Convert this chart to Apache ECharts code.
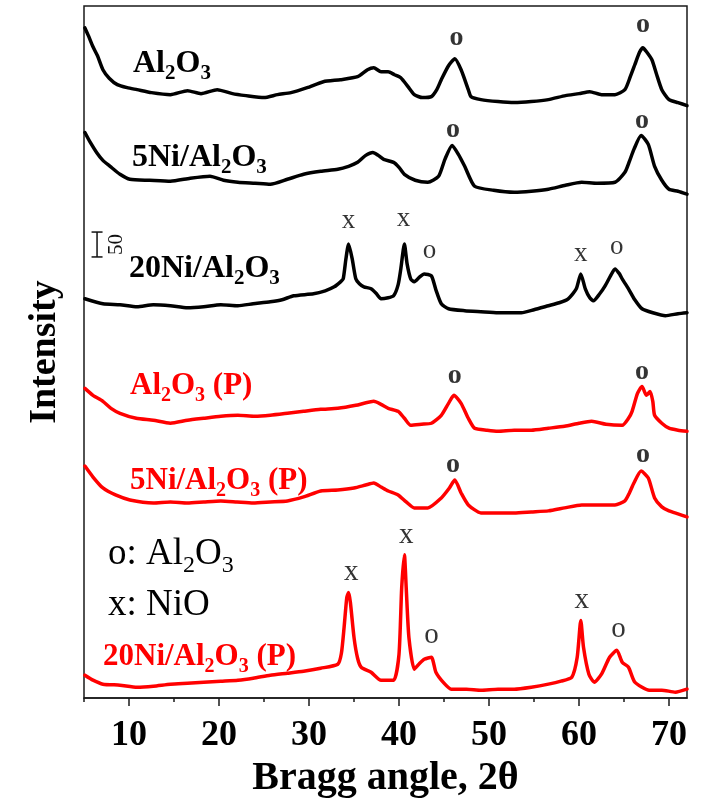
<!DOCTYPE html>
<html>
<head>
<meta charset="utf-8">
<script src="https://cdn.jsdelivr.net/npm/echarts@6/dist/echarts.min.js"></script>
<style>
  html, body { margin: 0; padding: 0; background: #fff; }
  #chart { width: 710px; height: 804px; }
</style>
</head>
<body>
<div id="chart"></div>
<script>
// XRD patterns: [2θ (deg), intensity (counts, stacked with vertical offsets)]
const al2o3 = [[5.1,1346],[5.5,1330],[6.0,1308],[6.5,1290],[7.1,1262],[7.8,1245],[8.7,1232],[9.8,1226],[10.9,1222],[12.5,1216],[14.6,1212],[16.5,1220],[18.0,1214],[19.8,1222],[21.5,1214],[23.0,1210],[25.0,1206],[26.5,1212],[28.0,1216],[29.8,1226],[31.6,1238],[33.5,1242],[35.4,1248],[36.5,1262],[37.2,1266],[38.0,1258],[38.8,1258],[39.5,1252],[40.2,1246],[41.0,1228],[41.7,1212],[42.6,1206],[43.6,1208],[44.2,1222],[44.7,1242],[45.5,1270],[46.2,1284],[46.9,1262],[47.7,1222],[48.0,1208],[49.1,1202],[51.0,1198],[52.8,1196],[54.7,1198],[56.6,1202],[58.5,1210],[60.0,1214],[61.2,1218],[62.5,1212],[64.0,1212],[65.1,1222],[65.7,1248],[66.2,1272],[66.7,1296],[67.1,1306],[67.5,1298],[68.1,1282],[68.6,1254],[69.2,1222],[70.0,1202],[71.0,1196],[72.0,1190]];

const ni5 = [[5.1,1136],[5.7,1116],[6.4,1096],[7.1,1080],[7.9,1068],[9.0,1052],[10.1,1042],[12.3,1040],[14.6,1038],[16.8,1044],[19.0,1048],[20.5,1040],[22.1,1036],[24.0,1034],[25.7,1032],[27.6,1042],[29.4,1052],[31.3,1058],[33.2,1062],[34.4,1068],[35.4,1076],[36.3,1090],[37.1,1096],[37.7,1090],[38.3,1082],[39.4,1076],[40.0,1066],[40.6,1052],[41.8,1040],[43.2,1036],[44.4,1048],[45.1,1082],[45.9,1110],[46.6,1092],[47.3,1068],[48.4,1028],[50.5,1020],[52.8,1016],[54.7,1018],[56.6,1022],[58.5,1030],[60.3,1036],[62.0,1034],[64.0,1036],[65.1,1056],[65.6,1078],[66.1,1102],[66.9,1130],[67.7,1112],[68.4,1068],[69.2,1040],[70.0,1022],[71.0,1018],[72.0,1012]];

const ni20 = [[5.1,802],[7.1,792],[9.0,790],[10.9,786],[12.7,790],[14.6,788],[16.5,784],[18.3,786],[20.2,790],[22.1,788],[23.8,792],[25.7,796],[27.0,800],[28.3,808],[30.5,812],[31.8,818],[32.8,826],[33.5,836],[33.8,842],[34.1,882],[34.4,912],[34.8,882],[35.2,842],[35.6,832],[36.1,826],[36.9,822],[37.5,812],[38.0,802],[38.8,804],[39.4,808],[39.9,830],[40.2,862],[40.6,912],[40.9,872],[41.3,842],[41.7,836],[42.3,846],[42.8,852],[43.6,848],[44.1,820],[44.7,792],[45.5,782],[47.3,778],[49.1,776],[51.0,774],[53.6,774],[55.0,780],[56.6,788],[57.8,794],[58.8,802],[59.7,822],[60.2,852],[60.7,822],[61.2,804],[61.6,798],[62.3,812],[62.9,828],[63.5,848],[64.0,862],[64.5,852],[64.8,842],[65.5,822],[66.2,800],[67.0,782],[68.2,774],[69.6,768],[71.0,772],[72.0,774]];

const al2o3P = [[5.1,622],[6.0,608],[7.1,596],[8.0,582],[9.0,572],[10.8,562],[12.7,558],[14.6,552],[16.5,558],[18.3,562],[20.2,566],[22.1,568],[24.0,566],[25.7,568],[27.6,572],[29.4,576],[31.3,580],[33.2,582],[35.2,588],[37.2,596],[38.0,590],[38.8,582],[39.9,576],[40.6,562],[41.3,548],[42.5,550],[43.6,552],[44.7,568],[45.5,592],[46.1,608],[46.9,592],[47.7,562],[48.4,542],[49.8,538],[51.0,536],[52.8,538],[54.7,538],[56.6,542],[58.4,546],[60.0,552],[61.4,556],[63.0,550],[64.8,548],[65.5,562],[65.9,576],[66.5,612],[67.0,626],[67.5,608],[67.9,616],[68.2,596],[68.4,568],[69.2,552],[70.0,542],[71.0,538],[72.0,536]];

const ni5P = [[5.1,466],[6.0,444],[7.1,422],[8.5,408],[10.1,398],[12.7,392],[14.6,394],[16.5,392],[18.3,394],[20.2,396],[22.0,394],[23.8,392],[25.7,394],[27.6,396],[29.4,404],[31.3,416],[33.2,418],[35.0,422],[36.3,428],[37.2,432],[38.0,424],[38.8,416],[39.9,408],[40.8,394],[41.7,382],[43.2,382],[44.7,402],[45.6,422],[46.2,438],[46.9,412],[47.7,388],[49.1,372],[51.0,372],[52.8,372],[54.7,374],[56.6,376],[58.4,382],[60.3,388],[62.0,388],[64.0,388],[65.1,396],[65.6,412],[66.1,432],[66.9,456],[67.7,442],[68.4,402],[69.2,384],[70.0,376],[71.0,370],[72.0,364]];

const ni20P = [[5.1,46],[6.0,36],[7.1,28],[9.0,26],[10.9,22],[12.7,24],[14.6,28],[16.5,30],[18.3,32],[20.2,34],[22.1,36],[23.8,40],[25.7,46],[27.6,50],[29.4,54],[31.3,60],[33.2,68],[33.6,90],[33.9,142],[34.2,202],[34.4,212],[34.6,192],[35.0,122],[35.4,80],[35.8,62],[36.9,52],[38.0,36],[39.4,36],[40.0,88],[40.3,222],[40.6,288],[40.8,222],[41.1,122],[41.7,58],[42.3,70],[42.8,78],[43.6,82],[44.1,52],[45.0,30],[45.8,18],[47.5,18],[49.1,16],[51.0,18],[52.8,18],[54.7,22],[56.6,28],[58.0,34],[59.2,42],[59.8,82],[60.2,156],[60.5,102],[61.1,48],[61.7,32],[62.5,48],[63.4,82],[64.2,96],[64.8,72],[65.5,62],[66.2,32],[67.8,16],[69.2,16],[70.7,12],[72.0,18]];

// Axis tick positions
const majorTicks = [10, 20, 30, 40, 50, 60, 70];
const minorTicks = [5, 15, 25, 35, 45, 55, 65];

// Phase markers above the reflections: [2θ, intensity, symbol]
const peaksBold = [[46.4,1326,'o'],[67.1,1352,'o'],[46.0,1142,'o'],[67.0,1160,'o'],[46.2,648,'o'],[67.0,656,'o'],[46.0,468,'o'],[67.1,488,'o']];
const peaks20Ni = [[34.4,958,'x'],[40.5,962,'x'],[43.4,898,'o'],[60.2,892,'x'],[64.2,906,'o']];
const peaks20NiP = [[34.7,252,'x'],[40.8,326,'x'],[43.6,126,'o'],[60.3,196,'x'],[64.4,138,'o']];

// Intensity scale bar: [2θ, lower, upper] spanning 50 counts
const scaleBar = [[6.45, 886, 936]];

const SERIF = "'Liberation Serif', 'Times New Roman', serif";
const BLACK = '#000000';
const RED = '#ff0000';

function traceSeries(data, color) {
  return {
    type: 'line', data: data, showSymbol: false, symbol: 'none', silent: true,
    smooth: 0.2,
    lineStyle: { color: color, width: 3.5, join: 'round', cap: 'round' },
    z: 3
  };
}

function peakSeries(data, fontSize, weight) {
  return {
    type: 'scatter', data: data, symbol: 'circle', symbolSize: 0.1, silent: true,
    itemStyle: { color: 'rgba(0,0,0,0)' },
    label: {
      show: true, position: 'inside', formatter: p => p.data[2],
      color: BLACK, fontFamily: SERIF, fontSize: fontSize, fontWeight: weight
    },
    z: 4
  };
}

// Sample label with chemical subscripts
function sampleText(x, y, text, color, size, weight) {
  const sub = Math.round(size * 0.66);
  return {
    type: 'text', x: x, y: y, silent: true, z: 10,
    style: {
      text: text, align: 'left', verticalAlign: 'middle',
      fill: color, fontFamily: SERIF, fontSize: size, fontWeight: weight,
      rich: {
        n: { fontFamily: SERIF, fontSize: size, fontWeight: weight, fill: color, lineHeight: size },
        s: { fontFamily: SERIF, fontSize: sub, fontWeight: weight, fill: color, lineHeight: sub, padding: [Math.round(size * 0.62), 0, 0, 0] }
      }
    }
  };
}

const chart = echarts.init(document.getElementById('chart'), null, { renderer: 'canvas' });

chart.setOption({
  animation: false,
  backgroundColor: '#ffffff',
  grid: {
    left: 84, right: 23, top: 6, bottom: 103,
    show: true, borderColor: '#1a1a1a', borderWidth: 1.5, backgroundColor: 'transparent'
  },
  xAxis: [{
    type: 'value', min: 5, max: 72, position: 'bottom',
    axisLine: { show: true, onZero: false, lineStyle: { color: '#1a1a1a', width: 1.5 } },
    axisTick: { show: true, inside: false, length: 8, customValues: majorTicks, lineStyle: { color: '#1a1a1a', width: 1.5 } },
    axisLabel: { customValues: majorTicks, color: BLACK, fontFamily: SERIF, fontSize: 36, fontWeight: 'bold', margin: 20 },
    splitLine: { show: false },
    name: 'Bragg angle, 2θ', nameLocation: 'middle', nameGap: 56,
    nameTextStyle: { color: BLACK, fontFamily: SERIF, fontSize: 40, fontWeight: 'bold' }
  }, {
    type: 'value', min: 5, max: 72, position: 'bottom',
    axisLine: { show: false, onZero: false },
    axisTick: { show: true, inside: false, length: 4, customValues: minorTicks, lineStyle: { color: '#1a1a1a', width: 1.5 } },
    axisLabel: { show: false },
    splitLine: { show: false }
  }],
  yAxis: {
    type: 'value', min: 0, max: 1390,
    axisLine: { show: false }, axisTick: { show: false }, axisLabel: { show: false },
    splitLine: { show: false },
    name: 'Intensity', nameLocation: 'middle', nameGap: 20, nameRotate: 90,
    nameTextStyle: { color: BLACK, fontFamily: SERIF, fontSize: 38, fontWeight: 'bold' }
  },
  series: [
    traceSeries(al2o3, BLACK),
    traceSeries(ni5, BLACK),
    traceSeries(ni20, BLACK),
    traceSeries(al2o3P, RED),
    traceSeries(ni5P, RED),
    traceSeries(ni20P, RED),
    peakSeries(peaksBold, 28, 'bold'),
    peakSeries(peaks20Ni, 27, 'normal'),
    peakSeries(peaks20NiP, 29, 'normal'),
    {
      type: 'custom', data: scaleBar, silent: true, z: 5,
      renderItem: function (params, api) {
        const lo = api.coord([api.value(0), api.value(1)]);
        const hi = api.coord([api.value(0), api.value(2)]);
        const cx = lo[0], half = 5.5;
        const st = { stroke: '#111', lineWidth: 1.5 };
        return {
          type: 'group',
          children: [
            { type: 'line', shape: { x1: cx, y1: lo[1], x2: cx, y2: hi[1] }, style: st },
            { type: 'line', shape: { x1: cx - half, y1: lo[1], x2: cx + half, y2: lo[1] }, style: st },
            { type: 'line', shape: { x1: cx - half, y1: hi[1], x2: cx + half, y2: hi[1] }, style: st },
            {
              type: 'text', x: cx + 19, y: (lo[1] + hi[1]) / 2, rotation: Math.PI / 2,
              style: { text: '50', fontFamily: SERIF, fontSize: 21, fill: '#111', align: 'center', verticalAlign: 'middle' }
            }
          ]
        };
      }
    }
  ],
  graphic: [
    sampleText(133, 64, '{n|Al}{s|2}{n|O}{s|3}', BLACK, 32, 'bold'),
    sampleText(132, 158, '{n|5Ni/Al}{s|2}{n|O}{s|3}', BLACK, 32, 'bold'),
    sampleText(129, 269, '{n|20Ni/Al}{s|2}{n|O}{s|3}', BLACK, 32, 'bold'),
    sampleText(130, 386, '{n|Al}{s|2}{n|O}{s|3}{n| (P)}', RED, 31, 'bold'),
    sampleText(130, 481, '{n|5Ni/Al}{s|2}{n|O}{s|3}{n| (P)}', RED, 31, 'bold'),
    sampleText(103, 657, '{n|20Ni/Al}{s|2}{n|O}{s|3}{n| (P)}', RED, 31, 'bold'),
    sampleText(108, 554, '{n|o: Al}{s|2}{n|O}{s|3}', BLACK, 37, 'normal'),
    sampleText(108, 605, '{n|x: NiO}', BLACK, 37, 'normal')
  ]
});
</script>
</body>
</html>
